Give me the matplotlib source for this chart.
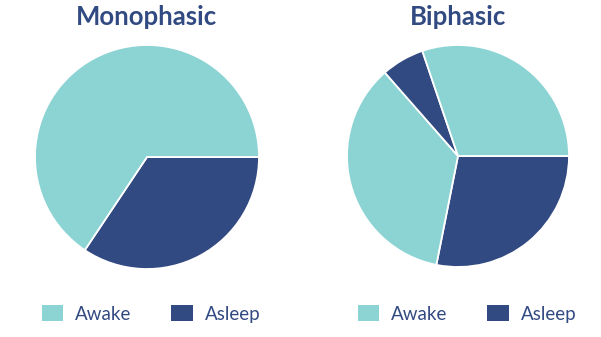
import matplotlib
matplotlib.use("Agg")
import matplotlib.pyplot as plt
from matplotlib.patches import Patch

plt.rcParams['font.family'] = ['Lato', 'DejaVu Sans']

# hours per day, clockwise from 3 o'clock
titles = ["Monophasic", "Biphasic"]
mono_labels = ["Asleep", "Awake"]
mono_hours = [8.25, 15.75]
bi_labels = ["Asleep", "Awake", "Asleep", "Awake"]
bi_hours = [6.75, 8.5, 1.5, 7.25]
legend_labels = ["Awake", "Asleep"]

teal = "#8cd3d4"
navy = "#324a82"
colors = {"Awake": teal, "Asleep": navy}

W, H = 601, 337
fig = plt.figure(figsize=(W / 100, H / 100), dpi=100)

def px_axes(cx, cy, r):
    return fig.add_axes([(cx - r) / W, (H - cy - r) / H, 2 * r / W, 2 * r / H])

# pie centre x, centre y, radius, legend centre x (pixels)
panels = [
    (147, 157, 112, 151, mono_hours, mono_labels),
    (458, 156, 111, 467, bi_hours, bi_labels),
]

for (cx, cy, r, lx, hours, labels), title in zip(panels, titles):
    ax = px_axes(cx, cy, r)
    ax.pie(hours, colors=[colors[l] for l in labels], startangle=0,
           counterclock=False, radius=1,
           wedgeprops=dict(edgecolor="white", linewidth=1.3))
    ax.set_xlim(-1, 1)
    ax.set_ylim(-1, 1)
    ax.axis("off")
    fig.text(cx / W, 1 - 17 / H, title, ha="center", va="center",
             fontsize=18.5, fontweight="bold", color=navy)
    handles = [Patch(facecolor=colors[l], edgecolor="none") for l in legend_labels]
    fig.legend(handles, legend_labels, loc="center",
               bbox_to_anchor=(lx / W, 1 - 314 / H), ncol=2,
               frameon=False, fontsize=13.5, labelcolor=navy,
               handlelength=1.15, handleheight=0.95, handletextpad=0.65,
               columnspacing=2.1)

fig.savefig("out.png", dpi=100, facecolor="white")
